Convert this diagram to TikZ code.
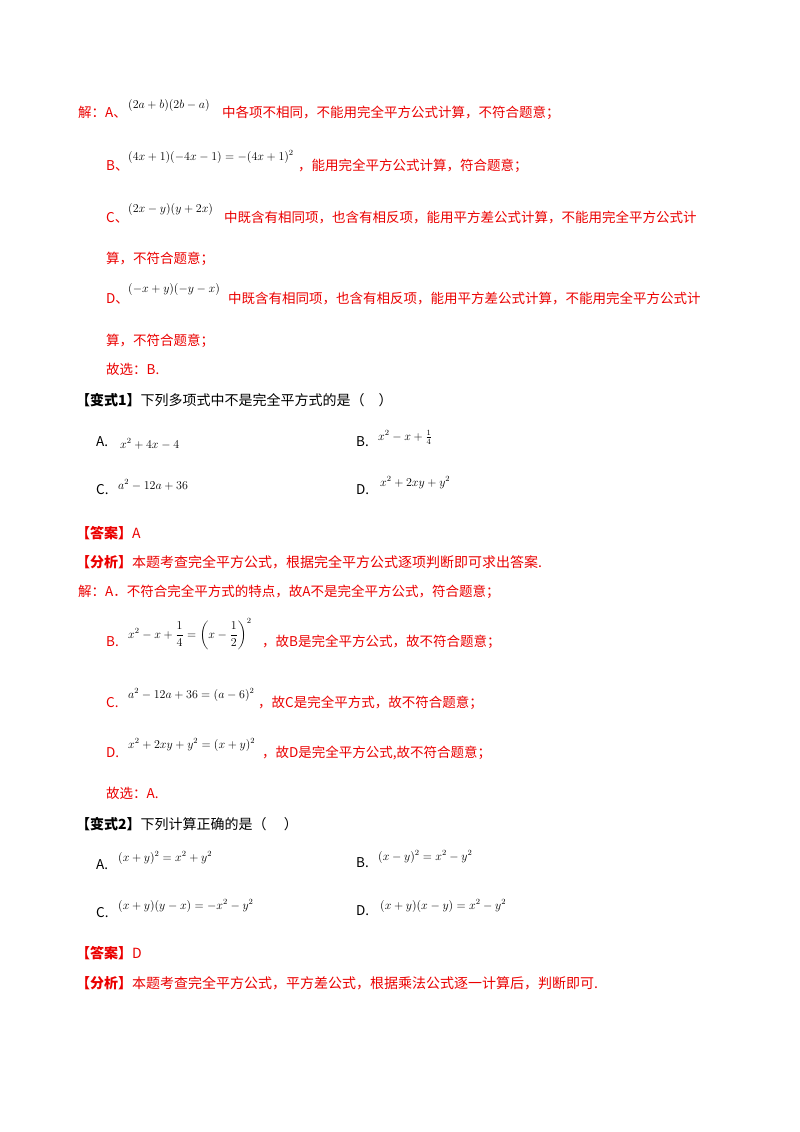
\RequirePackage{fix-cm}
\documentclass[tikz,border=0pt]{standalone}
\usepackage{amsmath}
\usepackage{fontspec}
\setmainfont{Liberation Serif}
\newfontfamily\cjk{Noto Sans CJK SC}
\definecolor{rd}{RGB}{235,0,0}
\begin{document}
\begin{tikzpicture}[x=1pt,y=-1pt,
  t/.style={anchor=base west,inner sep=0pt,font=\cjk\fontsize{13.5}{15}\selectfont},
  r/.style={t,text=rd},
  m/.style={anchor=base west,inner sep=0pt,font=\fontsize{12}{14}\selectfont}]
\useasboundingbox[fill=white] (0,0) rectangle (800,1132);
\node[r] (a1) at (78,117) {解：A、};
\node[m] (a1m) at (128,108) {$(2a+b)(2b-a)$};
\node[r] (a1t) at (222,117) {中各项不相同，不能用完全平方公式计算，不符合题意；};
\node[r] (b1) at (106,170) {B、};
\node[m] (b1m) at (128,160) {$(4x+1)(-4x-1)=-(4x+1)^2$};
\node[r] (b1t) at (298,170) {，能用完全平方公式计算，符合题意；};
\node[r] (c1) at (106,222) {C、};
\node[m] (c1m) at (128,212) {$(2x-y)(y+2x)$};
\node[r] (c1t) at (224,222) {中既含有相同项，也含有相反项，能用平方差公式计算，不能用完全平方公式计};
\node[r] (c1u) at (106,263) {算，不符合题意；};
\node[r] (d1) at (106,303) {D、};
\node[m] (d1m) at (128,292) {$(-x+y)(-y-x)$};
\node[r] (d1t) at (228,303) {中既含有相同项，也含有相反项，能用平方差公式计算，不能用完全平方公式计};
\node[r] (d1u) at (106,345) {算，不符合题意；};
\node[r] (g1) at (106,374) {故选：B.};
\node[t,font=\cjk\bfseries\fontsize{14}{15}\selectfont] (v1) at (76,405) {【变式1】\mdseries 下列多项式中不是完全平方式的是（\quad）};
\node[t] (v1a) at (96,446) {A.};
\node[m] (v1am) at (120,448) {$x^2+4x-4$};
\node[t] (v1b) at (356,446) {B.};
\node[m] (v1bm) at (378,440) {$x^2-x+\frac14$};
\node[t] (v1c) at (96,494) {C.};
\node[m] (v1cm) at (118,489) {$a^2-12a+36$};
\node[t] (v1d) at (356,494) {D.};
\node[m] (v1dm) at (380,486) {$x^2+2xy+y^2$};
\node[r,font=\cjk\bfseries\fontsize{14}{15}\selectfont] (ans1) at (76,538) {【答案】\mdseries A};
\node[r,font=\cjk\bfseries\fontsize{14}{15}\selectfont] (an1) at (76,567) {【分析】\mdseries 本题考查完全平方公式，根据完全平方公式逐项判断即可求出答案.};
\node[r] (s2) at (78,596) {解：A．不符合完全平方式的特点，故A不是完全平方公式，符合题意；};
\node[r] (b2) at (106,646) {B.};
\node[m] (b2m) at (128,638) {$x^2-x+\dfrac14=\left(x-\dfrac12\right)^2$};
\node[r] (b2t) at (262,646) {，故B是完全平方公式，故不符合题意；};
\node[r] (c2) at (106,707) {C.};
\node[m] (c2m) at (128,698) {$a^2-12a+36=(a-6)^2$};
\node[r] (c2t) at (258,707) {，故C是完全平方式，故不符合题意；};
\node[r] (d2) at (106,757) {D.};
\node[m] (d2m) at (128,748) {$x^2+2xy+y^2=(x+y)^2$};
\node[r] (d2t) at (262,757) {，故D是完全平方公式,故不符合题意；};
\node[r] (g2) at (106,798) {故选：A.};
\node[t,font=\cjk\bfseries\fontsize{14}{15}\selectfont] (v2) at (76,829) {【变式2】\mdseries 下列计算正确的是（\quad\ ）};
\node[t] (v2a) at (96,869) {A.};
\node[m] (v2am) at (118,861) {$(x+y)^2=x^2+y^2$};
\node[t] (v2b) at (356,867) {B.};
\node[m] (v2bm) at (378,860) {$(x-y)^2=x^2-y^2$};
\node[t] (v2c) at (96,917) {C.};
\node[m] (v2cm) at (118,909) {$(x+y)(y-x)=-x^2-y^2$};
\node[t] (v2d) at (356,915) {D.};
\node[m] (v2dm) at (380,909) {$(x+y)(x-y)=x^2-y^2$};
\node[r,font=\cjk\bfseries\fontsize{14}{15}\selectfont] (ans2) at (76,958) {【答案】\mdseries D};
\node[r,font=\cjk\bfseries\fontsize{14}{15}\selectfont] (an2) at (76,988) {【分析】\mdseries 本题考查完全平方公式，平方差公式，根据乘法公式逐一计算后，判断即可.};
\end{tikzpicture}
\end{document}
